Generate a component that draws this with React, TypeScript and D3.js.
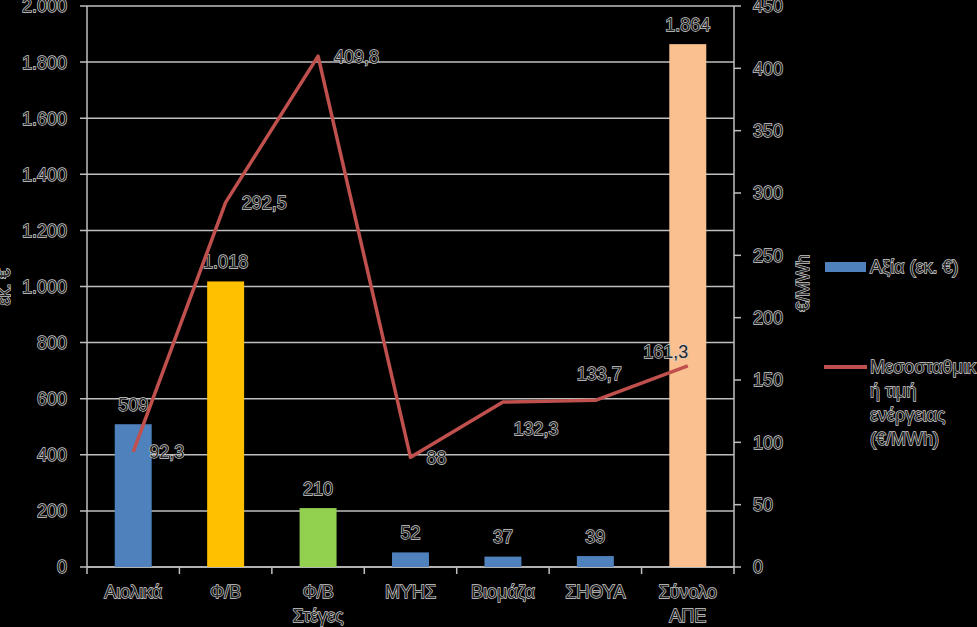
import React from "react";
import * as d3 from "d3";

const categories: string[][] = [
  ["Αιολικά"],
  ["Φ/Β"],
  ["Φ/Β", "Στέγες"],
  ["ΜΥΗΣ"],
  ["Βιομάζα"],
  ["ΣΗΘΥΑ"],
  ["Σύνολο", "ΑΠΕ"],
];
const barValues = [509, 1018, 210, 52, 37, 39, 1864];
const barColors = ["#4F81BD", "#FFC000", "#92D050", "#4F81BD", "#4F81BD", "#4F81BD", "#FAC090"];
const lineValues = [92.3, 292.5, 409.8, 88, 132.3, 133.7, 161.3];
const lineLabelPlacement = ["right", "right", "right", "right", "belowRight", "above", "aboveLeft"];
const leftTicks = [0, 200, 400, 600, 800, 1000, 1200, 1400, 1600, 1800, 2000];
const rightTicks = [0, 50, 100, 150, 200, 250, 300, 350, 400, 450];
const leftTitle = "εκ. €";
const rightTitle = "€/MWh";
const legendBar = "Αξία (εκ. €)";
const legendLine = ["Μεσοσταθμικ", "ή τιμή", "ενέργειας", "(€/MWh)"];

const W = 977;
const H = 627;
const left = 87;
const right = 734;
const top = 6;
const bottom = 567;

const loc = d3.formatLocale({ decimal: ",", thousands: ".", grouping: [3], currency: ["", "€"] });
const fmtInt = loc.format(",d");
const fmtDec = loc.format(",.1~f");

const GRID = "#bfbfbf";
const FONT = "'Liberation Sans', Arial, sans-serif";
const textStyle: React.CSSProperties = {
  fill: "#262626",
  stroke: "#d0d0d0",
  strokeWidth: 1.3,
  paintOrder: "stroke",
  fontFamily: FONT,
  fontSize: 18,
};

export default function App() {
  const keys = categories.map((c) => c.join(" "));
  const x = d3.scaleBand<string>().domain(keys).range([left, right]).paddingInner(0.6).paddingOuter(0.3);
  const step = x.step();
  const yL = d3.scaleLinear().domain([0, 2000]).range([bottom, top]);
  const yR = d3.scaleLinear().domain([0, 450]).range([bottom, top]);
  const cx = (i: number) => (x(keys[i]) as number) + x.bandwidth() / 2;

  const line = d3
    .line<number>()
    .x((_, i) => cx(i))
    .y((d) => yR(d));

  const boundaries = d3.range(keys.length + 1).map((i) => left + i * step);

  return (
    <div style={{ position: "absolute", left: 0, top: 0, width: W, height: H, background: "#000" }}>
      <svg width={W} height={H} style={{ display: "block" }}>
        <rect x={0} y={0} width={W} height={H} fill="#000" />
        {/* gridlines and left ticks */}
        {leftTicks.map((t) => (
          <g key={"l" + t}>
            <line x1={left - 7} x2={right} y1={yL(t)} y2={yL(t)} stroke={GRID} strokeWidth={1.5} />
            <text x={67} y={yL(t)} dy="0.36em" textAnchor="end" style={textStyle}>
              {fmtInt(t)}
            </text>
          </g>
        ))}
        {/* right ticks */}
        {rightTicks.map((t) => (
          <g key={"r" + t}>
            <line x1={right} x2={right + 7} y1={yR(t)} y2={yR(t)} stroke={GRID} strokeWidth={1.5} />
            <text x={753} y={yR(t)} dy="0.36em" textAnchor="start" style={textStyle}>
              {fmtInt(t)}
            </text>
          </g>
        ))}
        {/* axes lines */}
        <line x1={left} x2={left} y1={top} y2={bottom} stroke={GRID} strokeWidth={1.5} />
        <line x1={right} x2={right} y1={top} y2={bottom} stroke={GRID} strokeWidth={1.5} />
        <line x1={left} x2={right} y1={bottom} y2={bottom} stroke={GRID} strokeWidth={1.5} />
        {boundaries.map((b, i) => (
          <line key={"b" + i} x1={b} x2={b} y1={bottom} y2={bottom + 7} stroke={GRID} strokeWidth={1.5} />
        ))}
        {/* bars */}
        {barValues.map((v, i) => (
          <rect
            key={"bar" + i}
            x={x(keys[i])}
            y={yL(v)}
            width={x.bandwidth()}
            height={yL(0) - yL(v)}
            fill={barColors[i]}
          />
        ))}
        {/* bar labels */}
        {barValues.map((v, i) => (
          <text key={"bl" + i} x={cx(i)} y={yL(v) - 20} dy="0.36em" textAnchor="middle" style={textStyle}>
            {fmtInt(v)}
          </text>
        ))}
        {/* line */}
        <path d={line(lineValues) || ""} fill="none" stroke="#C0504D" strokeWidth={3.5} strokeLinejoin="round" />
        {/* line labels */}
        {lineValues.map((v, i) => {
          const px = cx(i);
          const py = yR(v);
          const p = lineLabelPlacement[i];
          let tx = px + 16;
          let ty = py;
          let anchor: "start" | "middle" = "start";
          if (p === "belowRight") {
            tx = px + 33;
            ty = py + 26;
            anchor = "middle";
          } else if (p === "above") {
            tx = px + 4;
            ty = py - 27;
            anchor = "middle";
          } else if (p === "aboveLeft") {
            tx = px - 22;
            ty = py - 14;
            anchor = "middle";
          }
          return (
            <text key={"ll" + i} x={tx} y={ty} dy="0.36em" textAnchor={anchor} style={textStyle}>
              {fmtDec(v)}
            </text>
          );
        })}
        {/* category labels */}
        {categories.map((c, i) => (
          <text key={"c" + i} x={cx(i)} y={592} textAnchor="middle" style={textStyle}>
            {c.map((s, j) => (
              <tspan key={j} x={cx(i)} y={592 + j * 24} dy="0.36em">
                {s}
              </tspan>
            ))}
          </text>
        ))}
        {/* axis titles */}
        <text transform={`translate(4,287) rotate(-90)`} dy="0.36em" textAnchor="middle" style={textStyle}>
          {leftTitle}
        </text>
        <text transform={`translate(803,283) rotate(-90)`} dy="0.36em" textAnchor="middle" style={textStyle}>
          {rightTitle}
        </text>
        {/* legend */}
        <rect x={825} y={262} width={41} height={10} fill="#4F81BD" />
        <text x={870} y={267} dy="0.36em" style={textStyle}>
          {legendBar}
        </text>
        <line x1={824} x2={867} y1={367} y2={367} stroke="#C0504D" strokeWidth={4} />
        {legendLine.map((s, j) => (
          <text key={"lg" + j} x={870} y={367 + j * 23.7} dy="0.36em" style={textStyle}>
            {s}
          </text>
        ))}
      </svg>
    </div>
  );
}
